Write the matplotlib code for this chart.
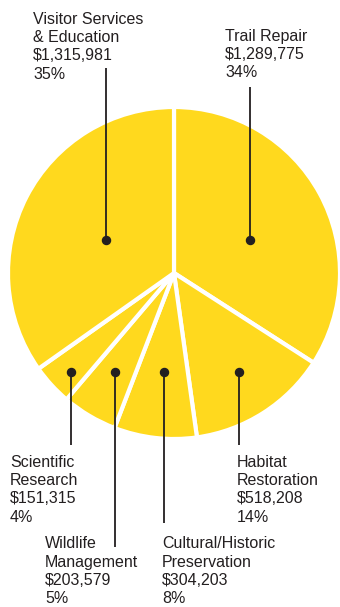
import numpy as np
import matplotlib
matplotlib.use("Agg")
import matplotlib.pyplot as plt

plt.rcParams['font.family'] = ['Liberation Sans', 'DejaVu Sans']

categories = ["Trail Repair", "Habitat\nRestoration", "Cultural/Historic\nPreservation",
              "Wildlife\nManagement", "Scientific\nResearch", "Visitor Services\n& Education"]
amounts = [1289775, 518208, 304203, 203579, 151315, 1315981]
percents = [34, 14, 8, 5, 4, 35]

YELLOW = "#FFD91E"
INK = "#231F20"

W, H = 340, 607
fig = plt.figure(figsize=(W / 100, H / 100), dpi=100)
ax = fig.add_axes([0, 0, 1, 1])

cx, cy, R = 174, H - 273, 166
wedges, _ = ax.pie(amounts, startangle=90, counterclock=False, center=(cx, cy), radius=R,
                   colors=[YELLOW] * len(amounts),
                   wedgeprops=dict(edgecolor='white', linewidth=3))
ax.set_xlim(0, W)
ax.set_ylim(0, H)
ax.set_aspect('equal')
ax.axis('off')

# label layout in px: (dot x, dot y, line end y, text x, text y, vertical anchor)
layout = [
    (250, 240, 87, 225, 29, 'top'),       # Trail
    (239, 372, 445, 237, 455, 'top'),     # Habitat
    (163.5, 372, 523, 162, 606, 'bottom'),  # Cultural
    (115, 372, 547, 45, 606, 'bottom'),   # Wildlife
    (71, 372, 445, 10, 455, 'top'),       # Scientific
    (105.5, 240, 68, 33, 12, 'top'),      # Visitor
]

for cat, amt, pct, (dx, dy_px, ly_px, tx, ty_px, va) in zip(categories, amounts, percents, layout):
    yd = H - dy_px
    ax.plot([dx, dx], [yd, H - ly_px], color=INK, lw=1.3, zorder=3, solid_capstyle='butt')
    ax.plot([dx], [yd], 'o', color=INK, ms=5.8, zorder=4)
    ax.text(tx, H - ty_px, f"{cat}\n${amt:,}\n{pct}%", ha='left', va=va,
            fontsize=11.5, color=INK, linespacing=1.27)

fig.savefig("out.png", dpi=100, facecolor='white')
